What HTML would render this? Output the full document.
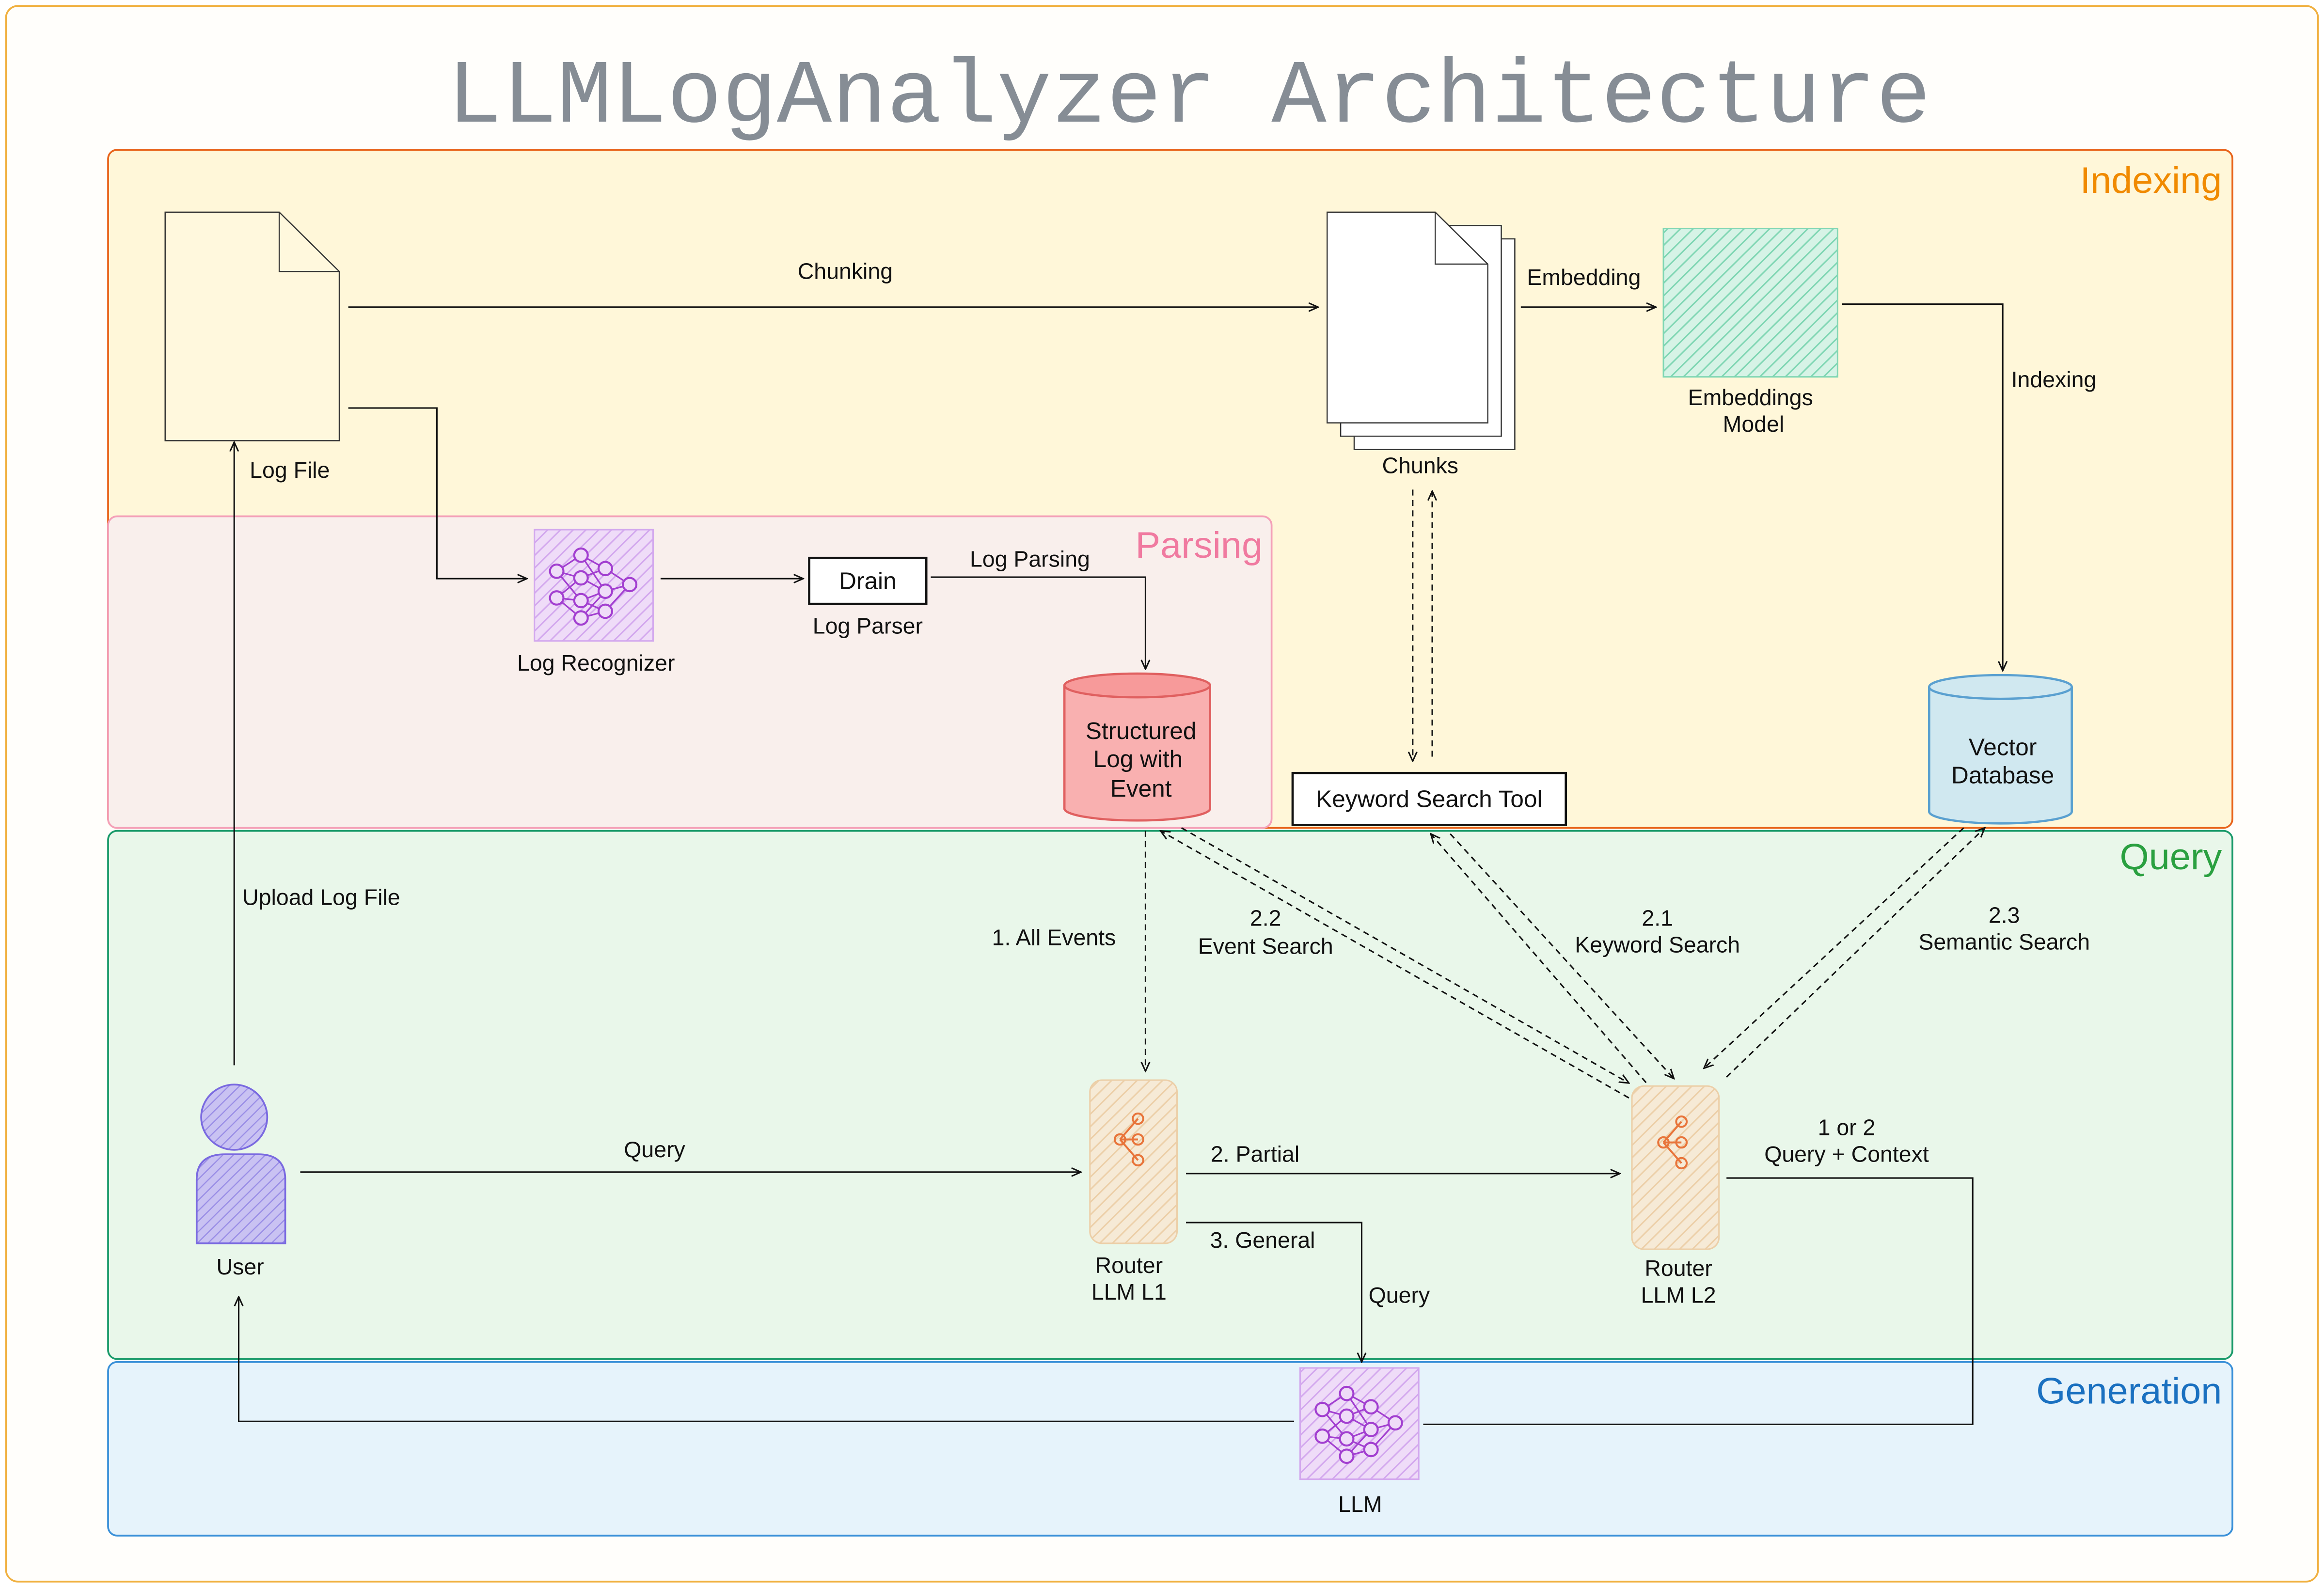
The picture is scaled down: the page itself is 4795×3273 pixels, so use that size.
<!DOCTYPE html>
<html><head><meta charset="utf-8"><style>
html,body{margin:0;padding:0;background:#fff}
svg{display:block}
text{font-family:"Liberation Sans",sans-serif;font-size:15px;fill:#111}
</style></head><body>
<svg width="4795" height="3273" viewBox="0 0 1548 1057" preserveAspectRatio="none" xmlns="http://www.w3.org/2000/svg">
<defs>
<marker id="a" viewBox="0 0 10 10" refX="9" refY="5" markerWidth="7" markerHeight="7" orient="auto-start-reverse"><path d="M0,1 L9,5 L0,9" fill="none" stroke="#111" stroke-width="1.4"/></marker>
<pattern id="hg" width="6" height="6" patternUnits="userSpaceOnUse" patternTransform="rotate(45)"><rect width="6" height="6" fill="#d6f3e6"/><line x1="0" y1="0" x2="0" y2="6" stroke="#7fd6b3" stroke-width="2"/></pattern>
<pattern id="hp" width="6" height="6" patternUnits="userSpaceOnUse" patternTransform="rotate(45)"><rect width="6" height="6" fill="#efdcf8"/><line x1="0" y1="0" x2="0" y2="6" stroke="#d3a8ee" stroke-width="2"/></pattern>
<pattern id="ho" width="6" height="6" patternUnits="userSpaceOnUse" patternTransform="rotate(45)"><rect width="6" height="6" fill="#f6ead6"/><line x1="0" y1="0" x2="0" y2="6" stroke="#eccfa8" stroke-width="2"/></pattern>
<pattern id="hu" width="5" height="5" patternUnits="userSpaceOnUse" patternTransform="rotate(45)"><rect width="5" height="5" fill="#c9c2f2"/><line x1="0" y1="0" x2="0" y2="5" stroke="#9a8ee6" stroke-width="1.6"/></pattern>
<g id="nn">
<g stroke="#a23fd0" stroke-width="1.2" fill="none">
<path d="M-28,-10 L-10,-22 M-28,-10 L-10,-5 M-28,-10 L-10,12 M-28,10 L-10,-5 M-28,10 L-10,12 M-28,10 L-10,25 M-10,-22 L8,-12 M-10,-5 L8,-12 M-10,-5 L8,5 M-10,12 L8,5 M-10,12 L8,20 M-10,25 L8,20 M-10,-22 L8,5 M-10,25 L8,5 M8,-12 L26,0 M8,5 L26,0 M8,20 L26,0"/>
</g>
<g fill="#efdcf8" stroke="#a23fd0" stroke-width="1.5">
<circle cx="-28" cy="-10" r="5"/><circle cx="-28" cy="10" r="5"/>
<circle cx="-10" cy="-22" r="5"/><circle cx="-10" cy="-5" r="5"/><circle cx="-10" cy="12" r="5"/><circle cx="-10" cy="25" r="5"/>
<circle cx="8" cy="-12" r="5"/><circle cx="8" cy="5" r="5"/><circle cx="8" cy="20" r="5"/>
<circle cx="26" cy="0" r="5"/>
</g></g>
<g id="rt" stroke="#e8743a" stroke-width="1.3" fill="none">
<path d="M-6,-2 L6,-16 M-6,-2 L6,-2 M-6,-2 L6,12"/>
<circle cx="-6" cy="-2" r="3.5"/><circle cx="6" cy="-16" r="3.5"/><circle cx="6" cy="-2" r="3.5"/><circle cx="6" cy="12" r="3.5"/>
</g>
</defs>
<g transform="scale(1,0.9888)">
<rect x="4" y="4" width="1540" height="1062" rx="8" fill="#fffefb" stroke="#f0b040" stroke-width="1.2"/>
<text x="792" y="82" text-anchor="middle" style="font-family:'Liberation Mono',monospace;font-size:61px;fill:#868d95">LLMLogAnalyzer Architecture</text>

<rect x="72" y="101" width="1415" height="457" rx="6" fill="#fff7d9" stroke="#e8641b" stroke-width="1.2"/>
<text x="1480" y="130" text-anchor="end" style="font-size:25px;fill:#f08a00">Indexing</text>
<rect x="72" y="348" width="775" height="210" rx="6" fill="#f9efec" stroke="#f4a0b8" stroke-width="1.2"/>
<text x="841" y="376" text-anchor="end" style="font-size:25px;fill:#f07aa0">Parsing</text>
<rect x="72" y="560" width="1415" height="356" rx="6" fill="#e9f7ea" stroke="#1a9a6a" stroke-width="1.2"/>
<text x="1480" y="586" text-anchor="end" style="font-size:25px;fill:#2aa040">Query</text>
<rect x="72" y="918" width="1415" height="117" rx="6" fill="#e6f3fb" stroke="#3a90d8" stroke-width="1.2"/>
<text x="1480" y="946" text-anchor="end" style="font-size:25px;fill:#1a70c0">Generation</text>

<path d="M110,143 L186,143 L226,183 L226,297 L110,297 Z" fill="#fff8dd" stroke="#333" stroke-width="0.8"/>
<path d="M186,143 L186,183 L226,183" fill="none" stroke="#333" stroke-width="0.8"/>
<text x="193" y="322" text-anchor="middle">Log File</text>

<line x1="232" y1="207" x2="878" y2="207" stroke="#111" marker-end="url(#a)"/>
<text x="563" y="188" text-anchor="middle">Chunking</text>

<g fill="#fff" stroke="#333" stroke-width="0.8">
<rect x="902" y="161" width="107" height="142"/>
<rect x="893" y="152" width="107" height="142"/>
<path d="M884,143 L956,143 L991,178 L991,285 L884,285 Z"/>
<path d="M956,143 L956,178 L991,178" fill="none"/>
</g>
<text x="946" y="319" text-anchor="middle">Chunks</text>

<line x1="1013" y1="207" x2="1103" y2="207" stroke="#111" marker-end="url(#a)"/>
<text x="1055" y="192" text-anchor="middle">Embedding</text>

<rect x="1108" y="154" width="116" height="100" fill="url(#hg)" stroke="#7fd6b3"/>
<text x="1166" y="273" text-anchor="middle">Embeddings</text>
<text x="1168" y="291" text-anchor="middle">Model</text>

<path d="M1227,205 L1334,205 L1334,452" fill="none" stroke="#111" marker-end="url(#a)"/>
<text x="1368" y="261" text-anchor="middle">Indexing</text>

<path d="M1285,463 L1285,547 A47.5,8 0 0 0 1380,547 L1380,463" fill="#d0e8f0" stroke="#5aa0d0" stroke-width="1.5"/>
<ellipse cx="1332.5" cy="463" rx="47.5" ry="8" fill="#d0e8f0" stroke="#5aa0d0" stroke-width="1.5"/>
<text x="1334" y="509" text-anchor="middle" style="font-size:16px">Vector</text>
<text x="1334" y="528" text-anchor="middle" style="font-size:16px">Database</text>

<path d="M232,275 L291,275 L291,390 L351,390" fill="none" stroke="#111" marker-end="url(#a)"/>
<rect x="356" y="357" width="79" height="75" fill="url(#hp)" stroke="#d3a8ee"/>
<use href="#nn" x="396" y="394" transform="translate(396,394) scale(0.9) translate(-396,-394)"/>
<text x="397" y="452" text-anchor="middle">Log Recognizer</text>

<line x1="440" y1="390" x2="535" y2="390" stroke="#111" marker-end="url(#a)"/>
<rect x="539" y="376" width="78" height="31" fill="#fff" stroke="#111" stroke-width="1.5"/>
<text x="578" y="397" text-anchor="middle" style="font-size:16px">Drain</text>
<text x="578" y="427" text-anchor="middle">Log Parser</text>
<path d="M620,389 L763,389 L763,451" fill="none" stroke="#111" marker-end="url(#a)"/>
<text x="686" y="382" text-anchor="middle">Log Parsing</text>

<path d="M709,462 L709,545 A48.5,8 0 0 0 806,545 L806,462" fill="#f9b0b0" stroke="#e06060" stroke-width="1.5"/>
<ellipse cx="757.5" cy="462" rx="48.5" ry="8" fill="#f79a9a" stroke="#e06060" stroke-width="1.5"/>
<text x="760" y="498" text-anchor="middle" style="font-size:16px">Structured</text>
<text x="758" y="517" text-anchor="middle" style="font-size:16px">Log with</text>
<text x="760" y="537" text-anchor="middle" style="font-size:16px">Event</text>

<rect x="861" y="521" width="182" height="35" fill="#fff" stroke="#111" stroke-width="1.5"/>
<text x="952" y="544" text-anchor="middle" style="font-size:16px">Keyword Search Tool</text>

<g stroke="#111" stroke-dasharray="4,3" fill="none">
<line x1="941" y1="330" x2="941" y2="513" marker-end="url(#a)"/>
<line x1="954" y1="510" x2="954" y2="331" marker-end="url(#a)"/>
<line x1="763" y1="560" x2="763" y2="722" marker-end="url(#a)"/>
<line x1="1085" y1="740" x2="773" y2="560" marker-end="url(#a)"/>
<line x1="787" y1="558" x2="1085" y2="730" marker-end="url(#a)"/>
<line x1="1101" y1="735" x2="953" y2="562" marker-end="url(#a)"/>
<line x1="966" y1="562" x2="1115" y2="727" marker-end="url(#a)"/>
<line x1="1308" y1="558" x2="1135" y2="720" marker-end="url(#a)"/>
<line x1="1150" y1="726" x2="1322" y2="558" marker-end="url(#a)"/>
</g>
<text x="843" y="624" text-anchor="middle">2.2</text>
<text x="843" y="643" text-anchor="middle">Event Search</text>
<text x="1104" y="624" text-anchor="middle">2.1</text>
<text x="1104" y="642" text-anchor="middle">Keyword Search</text>
<text x="1335" y="622" text-anchor="middle">2.3</text>
<text x="1335" y="640" text-anchor="middle">Semantic Search</text>
<text x="702" y="637" text-anchor="middle">1. All Events</text>

<circle cx="156" cy="753" r="22" fill="url(#hu)" stroke="#7a6ae0" stroke-width="1.2"/>
<path d="M131,838 L131,795 Q131,778 150,778 L172,778 Q190,778 190,795 L190,838 Z" fill="url(#hu)" stroke="#7a6ae0" stroke-width="1.2"/>
<text x="160" y="859" text-anchor="middle">User</text>
<line x1="156" y1="718" x2="156" y2="298" stroke="#111" marker-end="url(#a)"/>
<text x="214" y="610" text-anchor="middle">Upload Log File</text>

<line x1="200" y1="790" x2="720" y2="790" stroke="#111" marker-end="url(#a)"/>
<text x="436" y="780" text-anchor="middle">Query</text>

<rect x="726" y="728" width="58" height="110" rx="8" fill="url(#ho)" stroke="#eccfa8"/>
<use href="#rt" x="752" y="770"/>
<text x="752" y="858" text-anchor="middle">Router</text>
<text x="752" y="876" text-anchor="middle">LLM L1</text>

<line x1="790" y1="791" x2="1079" y2="791" stroke="#111" marker-end="url(#a)"/>
<text x="836" y="783" text-anchor="middle">2. Partial</text>
<path d="M790,824 L907,824 L907,918" fill="none" stroke="#111" marker-end="url(#a)"/>
<text x="841" y="841" text-anchor="middle">3. General</text>
<text x="932" y="878" text-anchor="middle">Query</text>

<rect x="1087" y="732" width="58" height="110" rx="8" fill="url(#ho)" stroke="#eccfa8"/>
<use href="#rt" x="1114" y="772"/>
<text x="1118" y="860" text-anchor="middle">Router</text>
<text x="1118" y="878" text-anchor="middle">LLM L2</text>

<path d="M1150,794 L1314,794 L1314,960 L948,960" fill="none" stroke="#111"/>
<text x="1230" y="765" text-anchor="middle">1 or 2</text>
<text x="1230" y="783" text-anchor="middle">Query + Context</text>

<rect x="866" y="922" width="79" height="75" fill="url(#hp)" stroke="#d3a8ee"/>
<use href="#nn" x="906" y="959" transform="translate(906,959) scale(0.9) translate(-906,-959)"/>
<text x="906" y="1019" text-anchor="middle">LLM</text>

<path d="M862,958 L159,958 L159,874" fill="none" stroke="#111" marker-end="url(#a)"/>
</g>
</svg>
</body></html>
